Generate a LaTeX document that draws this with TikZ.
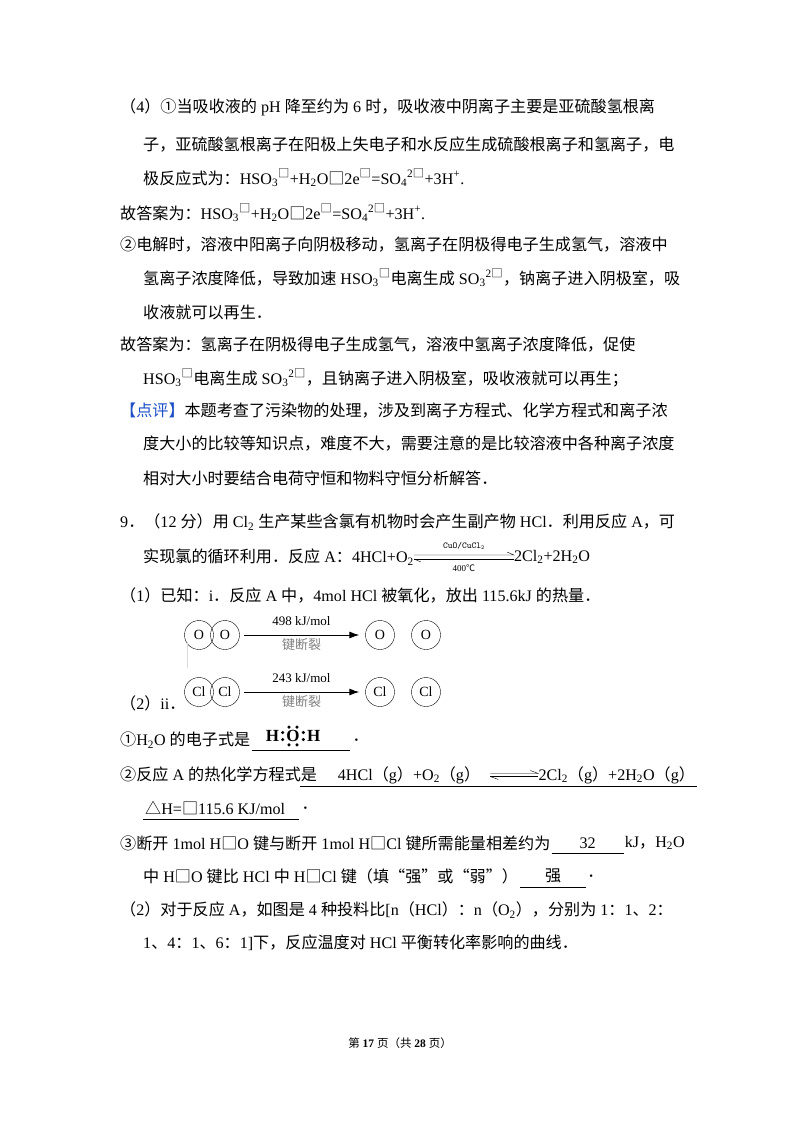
\documentclass[tikz,border=0pt]{standalone}
\usepackage{fontspec}
\setmainfont{Liberation Serif}
\newfontfamily\cjk{Noto Sans CJK SC}
\usetikzlibrary{arrows.meta,calc}
\XeTeXinterchartokenstate=1
\newXeTeXintercharclass\cjkcls
\newcount\cc
\def\setrange#1#2{\cc=#1 \loop\XeTeXcharclass\cc=\cjkcls \advance\cc 1 \ifnum\cc<#2 \repeat}
\setrange{"4E00}{"A000}
\setrange{"3000}{"3040}
\setrange{"FF00}{"FFF0}
\setrange{"2460}{"2470}
\setrange{"25A0}{"25C0}
\setrange{"2100}{"2104}
\setrange{"201C}{"201E}
\XeTeXinterchartoks 0 \cjkcls = {\cjk}
\XeTeXinterchartoks 4095 \cjkcls = {\cjk}
\XeTeXinterchartoks \cjkcls 0 = {\rmfamily}
\XeTeXinterchartoks \cjkcls 4095 = {\rmfamily}
\newcommand{\sub}[1]{\textsubscript{#1}}
\newcommand{\sups}[1]{\textsuperscript{#1}}
\begin{document}
\begin{tikzpicture}[x=1pt,y=-1pt,
  txt/.style={anchor=west,inner sep=0pt,font=\fontsize{16.1}{20}\selectfont},
  bond/.style={draw,thin,circle,minimum size=29pt,inner sep=0pt,font=\fontsize{14}{15}\selectfont},
  lab/.style={font=\fontsize{13}{14}\selectfont,inner sep=0pt},
  elec/.style={font=\fontsize{17}{18}\selectfont\bfseries,inner sep=0pt},
  uline/.style={line width=0.6pt},
  brk/.style={-{Latex[length=10pt,width=7pt]},line width=0.9pt}]
\useasboundingbox (0,0) rectangle (800,1132);
\fill[white] (0,0) rectangle (800,1132);
\node[txt] (l1) at (120,107) {（4）①当吸收液的 pH 降至约为 6 时，吸收液中阴离子主要是亚硫酸氢根离};
\node[txt] (l2) at (143,145) {子，亚硫酸氢根离子在阳极上失电子和水反应生成硫酸根离子和氢离子，电};
\node[txt] (l3) at (143,178) {极反应式为：HSO\sub{3}\sups{□}+H\sub{2}O□2e\sups{□}=SO\sub{4}\sups{2□}+3H\sups{+}.};
\node[txt] (l4) at (120,213) {故答案为：HSO\sub{3}\sups{□}+H\sub{2}O□2e\sups{□}=SO\sub{4}\sups{2□}+3H\sups{+}.};
\node[txt] (l5) at (120,245) {②电解时，溶液中阳离子向阴极移动，氢离子在阴极得电子生成氢气，溶液中};
\node[txt] (l6) at (143,278) {氢离子浓度降低，导致加速 HSO\sub{3}\sups{□}电离生成 SO\sub{3}\sups{2□}，钠离子进入阴极室，吸};
\node[txt] (l7) at (143,312) {收液就可以再生．};
\node[txt] (l8) at (120,345) {故答案为：氢离子在阴极得电子生成氢气，溶液中氢离子浓度降低，促使};
\node[txt] (l9) at (143,378) {HSO\sub{3}\sups{□}电离生成 SO\sub{3}\sups{2□}，且钠离子进入阴极室，吸收液就可以再生；};
\node[txt] (l10) at (120,411) {\textcolor[RGB]{30,80,200}{【点评】}本题考查了污染物的处理，涉及到离子方程式、化学方程式和离子浓};
\node[txt] (l11) at (143,444) {度大小的比较等知识点，难度不大，需要注意的是比较溶液中各种离子浓度};
\node[txt] (l12) at (143,478) {相对大小时要结合电荷守恒和物料守恒分析解答．};
\node[txt] (q9) at (120,522) {9．（12 分）用 Cl\sub{2} 生产某些含氯有机物时会产生副产物 HCl．利用反应 A，可};
\node[txt] (q9b) at (143,557) {实现氯的循环利用．反应 A：4HCl+O\sub{2}};
\coordinate (ea) at (q9b.east);
\draw[thin] ($(ea)+(0,-2)$) -- ++(100,0) -- ++(-7,-3);
\draw[thin] ($(ea)+(0,2)$) -- ++(100,0);
\draw[thin] ($(ea)+(0,2)$) -- ++(7,3);
\node[font=\fontsize{9}{10}\selectfont\ttfamily,inner sep=0pt] (cat) at ($(ea)+(50,-11)$) {CuO/CuCl\sub{2}};
\node[font=\fontsize{9}{10}\selectfont,inner sep=0pt] (tmp) at ($(ea)+(50,11)$) {400℃};
\node[txt] (q9c) at ($(ea)+(100,0)$) {2Cl\sub{2}+2H\sub{2}O};
\node[txt] (p1) at (120,595) {（1）已知：i．反应 A 中，4mol HCl 被氧化，放出 115.6kJ 的热量．};
% O2 bond
\node[bond] (o1) at (199,635) {O};
\node[bond] (o2) at (225,635) {O};
\node[bond] (o3) at (380,635) {O};
\node[bond] (o4) at (426,635) {O};
\draw[brk] ($(o2.east)+(4,0)$) coordinate (a1) -- ($(o3.west)+(-6,0)$) coordinate (a2);
\node[lab] (e1) at ($(a1)!0.5!(a2)+(0,-14)$) {498 kJ/mol};
\node[lab,text=gray] (k1) at ($(a1)!0.5!(a2)+(0,10)$) {\cjk 键断裂};
% Cl2 bond
\node[bond] (c1) at (199,692) {Cl};
\node[bond] (c2) at (225,692) {Cl};
\node[bond] (c3) at (380,692) {Cl};
\node[bond] (c4) at (426,692) {Cl};
\draw[brk] ($(c2.east)+(4,0)$) coordinate (b1) -- ($(c3.west)+(-6,0)$) coordinate (b2);
\node[lab] (e2) at ($(b1)!0.5!(b2)+(0,-14)$) {243 kJ/mol};
\node[lab,text=gray] (k2) at ($(b1)!0.5!(b2)+(0,10)$) {\cjk 键断裂};
\draw[gray!30] (187,642) -- (187,668);
\node[txt] (p2) at (120,703) {（2）ii．};
% H2O
\node[txt] (s1) at (120,740) {①H\sub{2}O 的电子式是};
\draw[uline] ($(s1.east)+(2,10)$) coordinate (u1) -- ++(98,0) coordinate (u1e);
\node[txt] (s1d) at ($(u1e)+(2,-10)$) {．};
\node[elec] (oo) at (293,736) {O};
\node[elec,anchor=east] (h1) at ($(oo.west)+(-7,0)$) {H};
\node[elec,anchor=west] (h2) at ($(oo.east)+(7,0)$) {H};
\foreach \a/\dx/\dy in {north/-4/-3,north/4/-3,south/-4/3,south/4/3,west/-3.5/-3.5,west/-3.5/3.5,east/3.5/-3.5,east/3.5/3.5}
  \fill ($(oo.\a)+(\dx,\dy)$) circle (1.7);
% equation 2
\node[txt] (s2) at (120,775) {②反应 A 的热化学方程式是\hspace{1.3em}4HCl（g）+O\sub{2}（g）};
\coordinate (eb) at ($(s2.east)+(10,0)$);
\draw[thin] ($(eb)+(0,-1.5)$) -- ++(48,0) -- ++(-8,-3);
\draw[thin] ($(eb)+(0,1.5)$) -- ++(48,0);
\draw[thin] ($(eb)+(0,1.5)$) -- ++(8,3);
\node[txt] (s2b) at ($(eb)+(48,0)$) {2Cl\sub{2}（g）+2H\sub{2}O（g）};
\draw[uline] ($(s2.west)+(180,11)$) -- ($(s2b.east)+(2,11)$);
\node[txt] (s2c) at (145,808) {△H=□115.6 KJ/mol};
\draw[uline] (143,819) -- ($(s2c.east)+(14,11)$) coordinate (u2e);
\node[txt] (s2d) at ($(u2e)+(2,-11)$) {．};
\node[txt] (s3) at (120,843) {③断开 1mol H□O 键与断开 1mol H□Cl 键所需能量相差约为};
\draw[uline] ($(s3.east)+(1,10)$) coordinate (u3) -- ++(72,0) coordinate (u3e);
\node[txt,anchor=center] (s3n) at ($(u3)!0.5!(u3e)+(0,-10)$) {32};
\node[txt] (s3b) at ($(u3e)+(1,-10)$) {kJ，H\sub{2}O};
\node[txt] (s4) at (143,876) {中 H□O 键比 HCl 中 H□Cl 键（填“强”或“弱”）};
\draw[uline] ($(s4.east)+(2,11)$) coordinate (u4) -- ++(66,0) coordinate (u4e);
\node[txt,anchor=center] (s4q) at ($(u4)!0.5!(u4e)+(0,-11)$) {强};
\node[txt] (s4d) at ($(u4e)+(1,-11)$) {．};
\node[txt] (p3) at (120,910) {（2）对于反应 A，如图是 4 种投料比[n（HCl）：n（O\sub{2}），分别为 1：1、2：};
\node[txt] (p3b) at (143,943) {1、4：1、6：1]下，反应温度对 HCl 平衡转化率影响的曲线．};
\node[txt,anchor=center,font=\fontsize{11.5}{13}\selectfont] (foot) at (400,1043) {第 \textbf{17} 页（共 \textbf{28} 页）};
\end{tikzpicture}
\end{document}
